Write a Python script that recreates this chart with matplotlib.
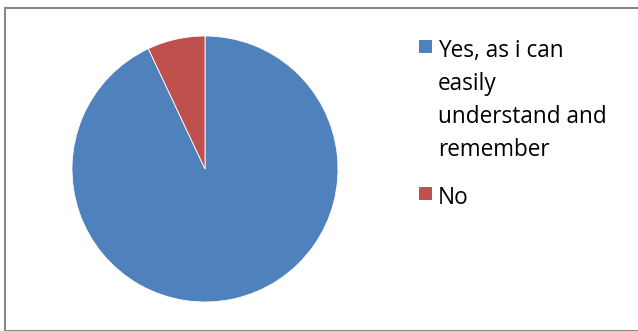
import matplotlib.pyplot as plt
from matplotlib.patches import Rectangle

labels = ['Yes, as i can\neasily\nunderstand and\nremember', 'No']
values = [93, 7]
colors = ['#4F81BD', '#C0504D']

W, H = 638, 331
fig = plt.figure(figsize=(W / 100, H / 100), dpi=100)
plt.rcParams['font.family'] = ['Open Sans', 'DejaVu Sans']

# outer chart frame
fig.add_artist(Rectangle((4.5 / W, 1 - 330.5 / H), (W + 5) / W, (330.5 - 7.5) / H,
                         transform=fig.transFigure, fill=False,
                         edgecolor='#878787', linewidth=1.5))

# pie: centre ~ (205, 169), radius ~133 px
cx, cy, r = 205, 169, 133
ax = fig.add_axes([(cx - r) / W, 1 - (cy + r) / H, 2 * r / W, 2 * r / H])
ax.pie(values, colors=colors, startangle=90, counterclock=False,
       wedgeprops=dict(edgecolor='white', linewidth=0.6))
ax.set_xlim(-1, 1)
ax.set_ylim(-1, 1)
ax.set_aspect('equal')
ax.axis('off')

# legend drawn by hand so the marker sits on the first text line
legend_tops = [40, 187]
for lab, col, top in zip(labels, colors, legend_tops):
    fig.add_artist(Rectangle((419 / W, 1 - (top + 13) / H), 13 / W, 13 / H,
                             transform=fig.transFigure, facecolor=col,
                             edgecolor='none'))
    fig.text(438 / W, 1 - (top - 1) / H, lab, fontsize=16.3,
             va='top', ha='left', linespacing=1.5, color='black')

fig.savefig('out.png', dpi=100)
